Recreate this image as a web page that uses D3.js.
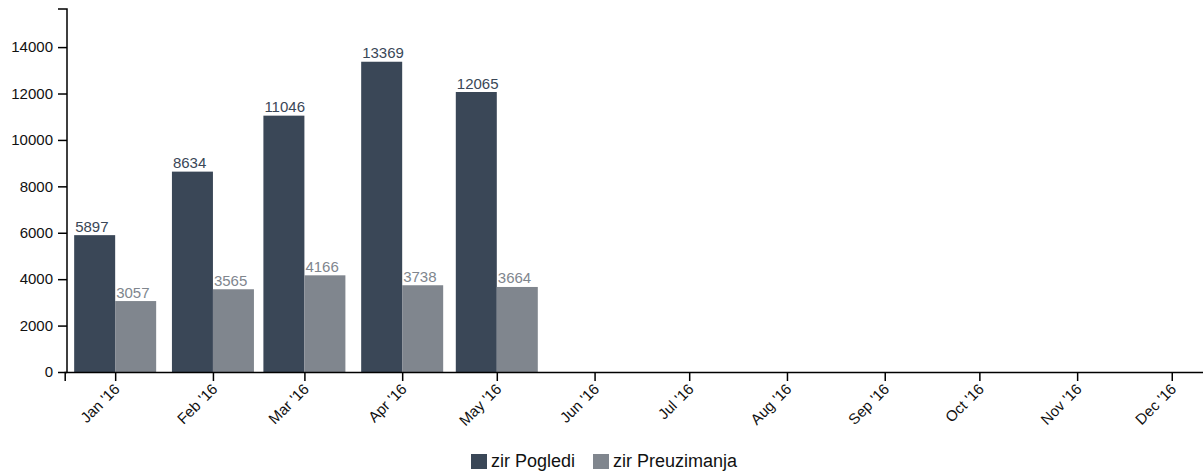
<!DOCTYPE html>
<html lang="en">
<head>
    <meta charset="UTF-8">
    <title>zir</title>
    <script src="https://d3js.org/d3.v7.min.js"></script>
    <style>
        body { margin: 0; background: #fff; }
        svg { font-family: "Liberation Sans", Arial, Helvetica, sans-serif; }
        .axis path, .axis line { stroke: #000; stroke-width: 1.5; }
        .axis text { font-size: 15px; fill: #111; }
    </style>
</head>
<body>
<script>

    // data
    var months = ['2016-01-01', '2016-02-01', '2016-03-01', '2016-04-01', '2016-05-01', '2016-06-01',
                  '2016-07-01', '2016-08-01', '2016-09-01', '2016-10-01', '2016-11-01', '2016-12-01'];
    var pogledi = [5897, 8634, 11046, 13369, 12065];
    var preuzimanja = [3057, 3565, 4166, 3738, 3664];
    var yTicks = [0, 2000, 4000, 6000, 8000, 10000, 12000, 14000];
    var seriesNames = ['zir Pogledi', 'zir Preuzimanja'];
    var colors = ['#3a4757', '#80868e'];

    var parse = d3.timeParse('%Y-%m-%d');
    var dates = months.map(parse);

    var width = 1203, height = 475;
    var mLeft = 67, mTop = 9, mBottom = 372;
    var barW = 41;

    var svg = d3.select('body')
        .append('svg')
        .attr('width', width)
        .attr('height', height);

    // time scale, ~3.154 px per day (domain runs past the right edge)
    var x = d3.scaleTime()
        .domain([parse('2015-12-16'), parse('2016-12-16')])
        .range([mLeft - 2.3, mLeft - 2.3 + 366 * 3.154]);

    var maxVal = d3.max(pogledi.concat(preuzimanja));
    var y = d3.scaleLinear()
        .domain([0, maxVal * 1.17])
        .range([mBottom, mTop]);

    // bars
    var series = [pogledi, preuzimanja];
    series.forEach(function(vals, si) {
        var g = svg.append('g');
        g.selectAll('rect')
            .data(vals)
            .enter()
                .append('rect')
                .attr('x', function(d, i) { return x(dates[i]) + (si === 0 ? -barW : 0); })
                .attr('y', function(d) { return y(d); })
                .attr('width', barW)
                .attr('height', function(d) { return mBottom - y(d); })
                .attr('fill', colors[si]);

        g.selectAll('text')
            .data(vals)
            .enter()
                .append('text')
                .attr('x', function(d, i) { return x(dates[i]) + (si === 0 ? -barW : 0) + 1; })
                .attr('y', function(d) { return y(d) - 3.5; })
                .attr('font-size', 15)
                .attr('fill', colors[si])
                .text(function(d) { return d; });
    });

    // axes
    var leftAxis = svg.append('g')
        .attr('class', 'axis')
        .attr('transform', 'translate(' + mLeft + ',0)')
        .call(d3.axisLeft(y).tickValues(yTicks).tickSize(9).tickPadding(5).tickFormat(d3.format('d')));

    // stretch domain to the top like the original
    leftAxis.select('.domain').attr('d', 'M-9,' + mTop + 'H0V' + mBottom);

    var xAxis = svg.append('g')
        .attr('class', 'axis')
        .attr('transform', 'translate(0,' + mBottom + ')')
        .call(d3.axisBottom(x).tickValues(dates).tickSize(9).tickFormat(d3.timeFormat("%b '%y")));

    xAxis.selectAll('text')
        .attr('x', 0)
        .attr('y', 0)
        .attr('dy', 0)
        .style('font-size', '15px')
        .style('text-anchor', 'end')
        .attr('transform', 'translate(5,18) rotate(-45)');

    // legend
    var legend = svg.append('g');
    var legendX = [471, 593];
    seriesNames.forEach(function(name, i) {
        legend.append('rect')
            .attr('x', legendX[i])
            .attr('y', 454)
            .attr('width', 16)
            .attr('height', 15)
            .attr('fill', colors[i]);
        legend.append('text')
            .attr('x', legendX[i] + 20)
            .attr('y', 467)
            .attr('font-size', 18)
            .attr('fill', '#111')
            .text(name);
    });

</script>
</body>
</html>
